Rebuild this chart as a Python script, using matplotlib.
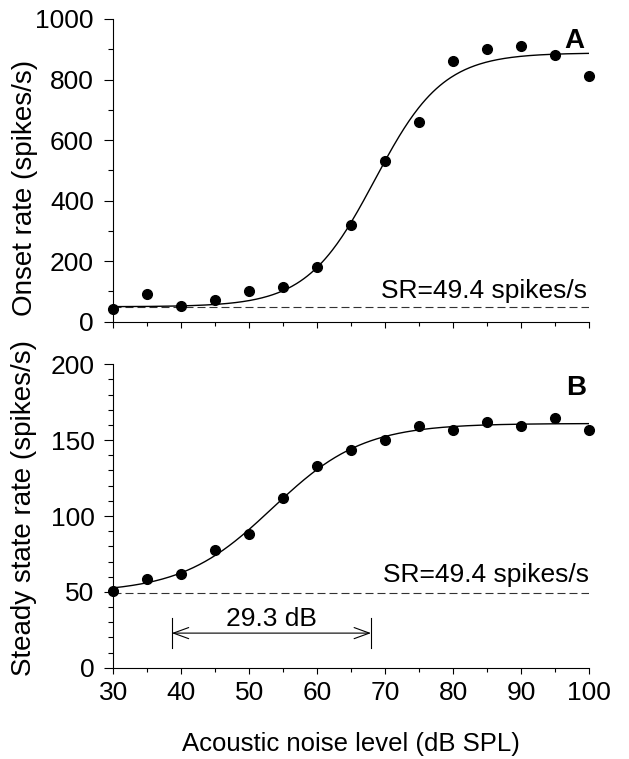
import numpy as np
import matplotlib
matplotlib.use("Agg")
import matplotlib.pyplot as plt
from matplotlib.ticker import MultipleLocator

plt.rcParams['font.family'] = ['Liberation Sans', 'DejaVu Sans']

# Data
levels = [30, 35, 40, 45, 50, 55, 60, 65, 70, 75, 80, 85, 90, 95, 100]
onset_rate = [41, 91, 52, 72, 101, 113, 181, 320, 530, 661, 861, 901, 912, 880, 811]
steady_rate = [50.6, 58.3, 61.8, 77.8, 88, 111.7, 133.2, 143.8, 149.9, 159.6,
               156.5, 161.8, 159.4, 164.8, 156.7]
spont_rate = 49.4

# Sigmoid fit parameters (low, high, midpoint, slope)
fit_onset = (49.4, 888.0, 68.5, 0.20)
fit_steady = (49.4, 161.0, 53.4, 0.15)

dyn_range_start = 38.6
dyn_range_end = 67.9
dyn_label = "29.3 dB"


def sigmoid(x, p):
    lo, hi, mid, k = p
    return lo + (hi - lo) / (1 + np.exp(-k * (x - mid)))


W, H = 629, 759
fig = plt.figure(figsize=(W / 100, H / 100), dpi=100)

def ax_rect(l, r, t, b):
    return [l / W, 1 - b / H, (r - l) / W, (b - t) / H]

axA = fig.add_axes(ax_rect(112.7, 589.3, 19.0, 321.7))
axB = fig.add_axes(ax_rect(113.3, 589.3, 364.3, 667.7))

xs = np.linspace(30, 100, 400)
FS = 19
FSX = 18.5
FSY = 20

for ax in (axA, axB):
    ax.spines['top'].set_visible(False)
    ax.spines['right'].set_visible(False)
    for s in ('left', 'bottom'):
        ax.spines[s].set_linewidth(0.8)
    ax.set_xlim(30, 100)
    ax.xaxis.set_major_locator(MultipleLocator(10))
    ax.xaxis.set_minor_locator(MultipleLocator(5))
    ax.tick_params(axis='y', which='major', direction='out', length=6.5, width=0.8,
                   labelsize=FS, pad=7)
    ax.tick_params(axis='y', which='minor', direction='out', length=3.5, width=0.8)
    ax.tick_params(axis='x', which='major', direction='out', length=4.5, width=0.8,
                   labelsize=FS, pad=5)
    ax.tick_params(axis='x', which='minor', direction='out', length=3, width=0.8)

# Panel A
axA.set_ylim(0, 1000)
axA.yaxis.set_major_locator(MultipleLocator(200))
axA.yaxis.set_minor_locator(MultipleLocator(100))
axA.tick_params(axis='x', labelbottom=False)
axA.axhline(spont_rate, color='#333333', lw=0.8, dashes=(7.2, 3.6))
axA.plot(xs, sigmoid(xs, fit_onset), color='black', lw=1.0)
axA.plot(levels, onset_rate, 'o', color='black', ms=7, clip_on=False, zorder=5)
axA.text(99.3, 927, 'A', fontsize=20, fontweight='bold', ha='right', va='center')
axA.text(99.6, 79, 'SR=49.4 spikes/s', fontsize=FS, ha='right', va='baseline')

# Panel B
axB.set_ylim(0, 200)
axB.yaxis.set_major_locator(MultipleLocator(50))
axB.yaxis.set_minor_locator(MultipleLocator(10))
axB.axhline(spont_rate, color='#333333', lw=0.8, dashes=(7.2, 3.6))
axB.plot(xs, sigmoid(xs, fit_steady), color='black', lw=1.0)
axB.plot(levels, steady_rate, 'o', color='black', ms=7, clip_on=False, zorder=5)
axB.text(99.5, 184.7, 'B', fontsize=20, fontweight='bold', ha='right', va='center')
axB.text(100, 56.3, 'SR=49.4 spikes/s', fontsize=FS, ha='right', va='baseline')

# Dynamic range annotation
for xv in (dyn_range_start, dyn_range_end):
    axB.plot([xv, xv], [12.9, 33], color='black', lw=0.8)
axB.annotate('', xy=(dyn_range_end, 22.8), xytext=(dyn_range_start, 22.8),
             arrowprops=dict(arrowstyle='<->,head_length=0.55,head_width=0.2',
                             mutation_scale=20, lw=0.8, color='black',
                             shrinkA=0, shrinkB=0))
axB.text((dyn_range_start + dyn_range_end) / 2, 27.7, dyn_label, fontsize=FS,
         ha='center', va='baseline')

fig.text(351.3 / W, 1 - 751.5 / H, 'Acoustic noise level (dB SPL)', fontsize=FSX,
         ha='center', va='baseline')
fig.text(25 / W, 1 - 187.5 / H, 'Onset rate (spikes/s)', rotation=90, fontsize=FSY,
         ha='center', va='center')
fig.text(24 / W, 1 - 508.5 / H, 'Steady state rate (spikes/s)', rotation=90, fontsize=FSY,
         ha='center', va='center')

fig.savefig('out.png', dpi=100)
